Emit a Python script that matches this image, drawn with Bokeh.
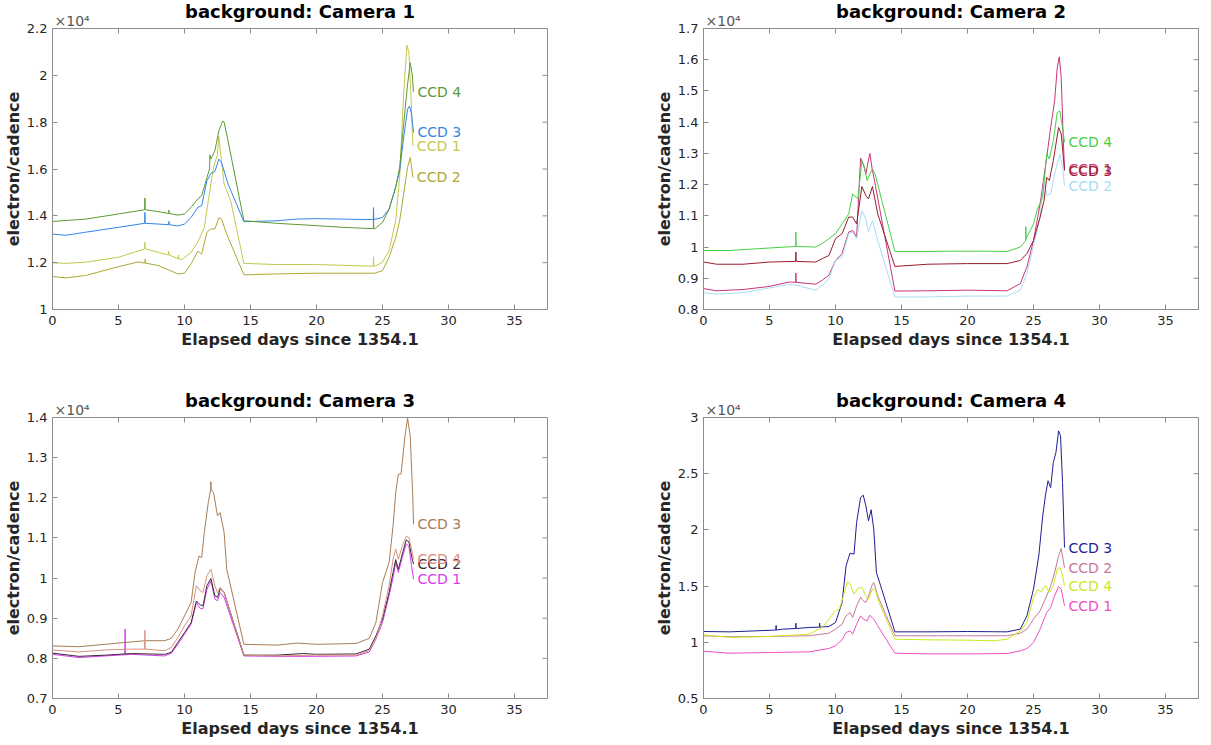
import math
from bokeh.plotting import figure
from bokeh.layouts import column, row
from bokeh.models import FixedTicker, CustomJSTickFormatter, Range1d, Title
from bokeh.core.properties import value
from bokeh.embed import file_html
from bokeh.resources import INLINE

FONT = "DejaVu Sans"

# ---------------- data (electron/cadence vs elapsed days since 1354.1) ----------------
# Camera 1
c1_ccd1_x = [0, 1, 2.5, 5, 6.98, 7.0, 7.02, 8.5, 8.78, 8.8, 8.82, 9.53, 9.55, 9.57, 9.8, 10.5, 11.0, 11.5, 11.8, 12.2, 12.5, 12.6, 12.8, 13.0, 13.5, 14.5, 17, 20, 24.3, 24.32, 24.34, 24.5, 25, 25.5, 26, 26.3, 26.6, 26.85, 27.0, 27.15, 27.3]
c1_ccd1_y = [11990, 11970, 12020, 12230, 12590, 12870, 12590, 12370, 12330, 12480, 12330, 12170, 12320, 12170, 12130, 12440, 12870, 13510, 14640, 16070, 16630, 17400, 16350, 15360, 14640, 11970, 11920, 11920, 11850, 12250, 11850, 11870, 12020, 12510, 13790, 15640, 19190, 21290, 20970, 19190, 16990]
c1_ccd2_x = [0, 1, 2.5, 5, 6.5, 7.0, 7.02, 7.04, 8, 9.5, 10, 10.5, 11, 11.3, 11.7, 12, 12.3, 12.6, 12.8, 13.2, 14.5, 17, 20, 24.4, 25, 25.5, 26, 26.3, 26.6, 26.9, 27.1, 27.3]
c1_ccd2_y = [11410, 11350, 11450, 11830, 12030, 11980, 12150, 11980, 11880, 11520, 11550, 11950, 12490, 12370, 13300, 13440, 13440, 13910, 13860, 13220, 11480, 11520, 11550, 11550, 11660, 12230, 13080, 13790, 14930, 16070, 16490, 15640]
c1_ccd3_x = [0, 1, 2.5, 5, 6.98, 7.0, 7.02, 8, 8.8, 8.82, 8.84, 9.5, 10, 10.5, 11, 11.3, 11.7, 12, 12.3, 12.6, 12.8, 13.3, 14.5, 17, 18.5, 20, 23, 24.3, 24.32, 24.34, 25, 25.5, 26, 26.3, 26.6, 26.9, 27.05, 27.2, 27.35]
c1_ccd3_y = [13220, 13170, 13300, 13510, 13680, 14150, 13680, 13650, 13620, 13760, 13620, 13570, 13650, 13930, 14360, 14430, 15500, 15810, 15890, 16420, 16280, 15360, 13750, 13790, 13860, 13880, 13850, 13840, 14350, 13840, 13930, 14290, 15240, 15920, 17340, 18550, 18690, 18340, 17560]
c1_ccd4_x = [0, 2.5, 5, 6.98, 7.0, 7.02, 8, 8.8, 8.82, 8.84, 9.5, 10, 10.5, 11, 11.3, 11.7, 11.9, 11.92, 12, 12.3, 12.6, 12.9, 13.0, 13.3, 14.5, 17, 20, 22, 24.3, 24.32, 24.34, 24.4, 25, 25.5, 26, 26.3, 26.6, 26.9, 27.1, 27.25, 27.35]
c1_ccd4_y = [13760, 13860, 14080, 14260, 14760, 14260, 14180, 14100, 14250, 14100, 14030, 14080, 14360, 14720, 14860, 15640, 16000, 16600, 16420, 16780, 17630, 18050, 18000, 17200, 13790, 13680, 13580, 13510, 13450, 13900, 13450, 13440, 13720, 14290, 15210, 16070, 17910, 19620, 20540, 20040, 19300]

# Camera 2
c2_ccd1_x = [0, 1, 3, 5, 6.5, 6.98, 7.0, 7.02, 8.5, 9, 9.5, 10, 10.5, 11, 11.3, 11.6, 11.9, 12.1, 12.3, 12.6, 12.8, 13.0, 14.5, 17, 20, 23, 24, 24.5, 25, 25.5, 26, 26.3, 26.6, 26.8, 26.95, 27.1, 27.25, 27.35]
c2_ccd1_y = [8670, 8600, 8640, 8740, 8880, 8870, 9170, 8870, 8810, 8940, 9100, 9570, 9790, 10480, 10530, 10320, 12850, 12660, 12340, 13000, 12450, 12020, 8590, 8600, 8620, 8600, 8830, 9360, 10210, 11380, 12870, 13830, 14680, 15740, 16090, 15430, 13510, 12500]
c2_ccd2_x = [0, 1, 3, 5, 6.5, 7, 8.5, 9, 9.5, 10, 10.5, 11, 11.3, 11.6, 12.0, 12.3, 12.5, 12.8, 13.2, 14.5, 17, 20, 23, 24, 24.5, 25, 25.5, 25.8, 26.0, 26.3, 26.6, 27.0, 27.2, 27.35]
c2_ccd2_y = [8540, 8490, 8540, 8690, 8800, 8780, 8620, 8780, 8990, 9570, 9680, 10430, 10480, 10270, 11170, 10900, 10480, 10850, 10210, 8400, 8400, 8430, 8430, 8620, 9150, 10050, 10960, 12130, 11650, 11700, 12340, 12980, 12550, 11970]
c2_ccd3_x = [0, 1, 3, 5, 6.98, 7.0, 7.02, 8.5, 9, 9.5, 10, 10.5, 11, 11.3, 11.6, 12.0, 12.3, 12.5, 12.8, 13.2, 14.5, 17, 20, 23, 24, 24.5, 25, 25.5, 25.8, 26.0, 26.2, 26.5, 26.9, 27.1, 27.35]
c2_ccd3_y = [9520, 9450, 9450, 9520, 9540, 9840, 9540, 9520, 9630, 9730, 10270, 10430, 10960, 10960, 10740, 11940, 11650, 11540, 11940, 11060, 9380, 9450, 9470, 9470, 9570, 9790, 10210, 10960, 11490, 12230, 12130, 12770, 13830, 13620, 12450]
c2_ccd4_x = [0, 2, 5, 6.98, 7.0, 7.02, 8.5, 9, 9.5, 10, 10.5, 11, 11.3, 11.7, 12.0, 12.2, 12.4, 12.6, 12.8, 13.0, 14.5, 17, 20, 23, 24, 24.4, 24.42, 24.44, 24.5, 25, 25.3, 25.7, 26.0, 26.2, 26.5, 26.8, 27.0, 27.2, 27.35]
c2_ccd4_y = [9890, 9890, 9970, 10020, 10480, 10020, 10000, 10110, 10270, 10430, 10740, 11060, 11700, 11540, 12770, 12550, 12130, 12340, 12500, 12340, 9860, 9860, 9870, 9860, 10000, 10200, 10650, 10250, 10320, 10740, 11220, 11600, 12980, 12820, 13400, 14310, 14360, 13830, 13350]

# Camera 3
c3_ccd1_x = [0, 2, 4, 5.48, 5.5, 5.52, 6, 8.5, 9, 9.5, 10, 10.5, 10.9, 11.2, 11.4, 11.7, 12.0, 12.3, 12.5, 12.7, 13.0, 14.5, 17, 20, 23, 24, 24.5, 25, 25.5, 25.8, 26.0, 26.2, 26.5, 26.8, 27.0, 27.2, 27.35]
c3_ccd1_y = [8100, 8020, 8060, 8090, 8730, 8090, 8100, 8060, 8130, 8350, 8600, 8850, 9390, 9240, 9240, 9720, 9930, 9480, 9430, 9640, 9520, 8060, 8050, 8050, 8060, 8160, 8480, 8890, 9560, 10010, 10390, 10140, 10510, 10850, 10790, 10310, 9970]
c3_ccd2_x = [0, 2, 4, 6, 8.5, 9, 9.5, 10, 10.5, 10.9, 11.2, 11.4, 11.7, 12.0, 12.3, 12.5, 12.7, 13.0, 14.5, 17, 19, 20, 23, 24, 24.5, 25, 25.5, 25.8, 26.0, 26.2, 26.5, 26.8, 27.0, 27.2, 27.35]
c3_ccd2_y = [8130, 8050, 8080, 8120, 8100, 8150, 8400, 8640, 8890, 9430, 9330, 9310, 9810, 9990, 9560, 9520, 9740, 9640, 8080, 8080, 8120, 8100, 8110, 8230, 8560, 8980, 9640, 10140, 10460, 10220, 10600, 10950, 10900, 10550, 10350]
c3_ccd3_x = [0, 2, 4, 6, 7, 8.5, 9, 9.5, 10, 10.5, 10.8, 11.1, 11.3, 11.5, 11.8, 11.98, 12.0, 12.02, 12.2, 12.5, 12.7, 13.0, 13.2, 14.5, 17, 18.5, 20, 23, 24, 24.5, 25, 25.5, 25.8, 26.0, 26.2, 26.4, 26.5, 26.7, 26.9, 27.1, 27.3, 27.35]
c3_ccd3_y = [8310, 8290, 8350, 8410, 8440, 8440, 8500, 8730, 9060, 9390, 10140, 10550, 10510, 11140, 11880, 12200, 12400, 12200, 12130, 11550, 11630, 11140, 10220, 8350, 8330, 8380, 8350, 8370, 8500, 8890, 9890, 10390, 11300, 12130, 12590, 12590, 12880, 13540, 13980, 13540, 11970, 11340]
c3_ccd4_x = [0, 2, 4, 6, 6.98, 7.0, 7.02, 8.5, 9, 9.5, 10, 10.5, 10.9, 11.2, 11.4, 11.7, 12.0, 12.3, 12.5, 12.7, 13.0, 14.5, 17, 20, 23, 24, 24.5, 25, 25.5, 25.8, 26.0, 26.2, 26.5, 26.8, 27.0, 27.2, 27.35]
c3_ccd4_y = [8210, 8160, 8210, 8230, 8230, 8700, 8230, 8190, 8270, 8520, 8810, 9060, 9810, 9680, 9640, 10060, 10220, 9810, 9640, 9770, 9640, 8080, 8060, 8080, 8080, 8190, 8480, 9060, 9810, 10470, 10720, 10470, 10800, 11040, 11010, 10720, 10470]

# Camera 4
c4_ccd1_x = [0, 2, 5, 8, 9.5, 10, 10.5, 10.8, 11.1, 11.3, 11.6, 11.9, 12.1, 12.4, 12.6, 12.9, 13.2, 14.5, 17, 20, 23, 24, 24.5, 25, 25.5, 26, 26.3, 26.6, 26.9, 27.1, 27.35]
c4_ccd1_y = [9210, 9030, 9090, 9150, 9450, 9690, 10220, 10870, 11020, 10720, 11610, 12350, 12060, 11910, 12410, 12060, 11460, 9030, 8970, 8970, 9000, 9240, 9450, 9980, 11170, 12650, 13100, 14130, 14960, 14730, 13240]
c4_ccd2_x = [0, 2, 5, 8, 9.5, 10, 10.5, 10.8, 11.1, 11.3, 11.6, 11.9, 12.1, 12.3, 12.5, 12.8, 12.9, 13.2, 14.5, 17, 20, 23, 24, 24.5, 25, 25.5, 26, 26.3, 26.6, 26.9, 27.1, 27.35]
c4_ccd2_y = [10580, 10490, 10520, 10580, 10810, 11170, 11610, 12350, 12650, 12210, 13240, 13990, 13690, 13540, 14130, 15170, 15320, 14130, 10580, 10580, 10580, 10580, 10810, 11170, 12060, 12800, 14130, 15020, 16210, 17690, 18350, 16630]
c4_ccd3_x = [0, 2, 4, 5.48, 5.5, 5.52, 6, 6.98, 7.0, 7.02, 8, 8.78, 8.8, 8.82, 9.5, 10, 10.5, 10.8, 11.1, 11.4, 11.6, 11.9, 12.1, 12.3, 12.5, 12.7, 12.9, 13.1, 13.5, 14.5, 17, 20, 23, 24, 24.5, 25, 25.4, 25.7, 25.9, 26.1, 26.3, 26.5, 26.7, 26.9, 27.05, 27.2, 27.35]
c4_ccd3_y = [10960, 10930, 11020, 11090, 11500, 11090, 11170, 11230, 11700, 11230, 11320, 11350, 11700, 11350, 11410, 11760, 13540, 16800, 17930, 17840, 20660, 22880, 23090, 22140, 20810, 21790, 20070, 16210, 14730, 10930, 10930, 10960, 10930, 11170, 12350, 14730, 17690, 21250, 23030, 24370, 23770, 26000, 26890, 28810, 28370, 24220, 18430]
c4_ccd4_x = [0, 2, 5, 8, 9, 9.5, 10, 10.3, 10.6, 10.9, 11.1, 11.4, 11.7, 12.0, 12.3, 12.5, 12.8, 13.0, 13.3, 14.5, 17, 20, 22, 23, 24, 24.5, 25, 25.3, 25.6, 25.9, 26.2, 26.5, 26.8, 27.0, 27.2, 27.35]
c4_ccd4_y = [10660, 10430, 10520, 10720, 11320, 12060, 12800, 12950, 14130, 15400, 15200, 14280, 14790, 14880, 14130, 13840, 14730, 14730, 13540, 10280, 10220, 10190, 10130, 10280, 11020, 11760, 13990, 14670, 14490, 15080, 14430, 15020, 16510, 16660, 15910, 15020]

ccd_names = ["CCD 1", "CCD 2", "CCD 3", "CCD 4"]
x_ticks = [0, 5, 10, 15, 20, 25, 30, 35]
x_max = 37.5
c1_yticks = [10000, 12000, 14000, 16000, 18000, 20000, 22000]
c2_yticks = [8000, 9000, 10000, 11000, 12000, 13000, 14000, 15000, 16000, 17000]
c3_yticks = [7000, 8000, 9000, 10000, 11000, 12000, 13000, 14000]
c4_yticks = [5000, 10000, 15000, 20000, 25000, 30000]

c1_colors = ["#c4c84e", "#ada932", "#3584e6", "#5c9a33"]
c2_colors = ["#c8347a", "#a8dcf2", "#9a1b2e", "#48d044"]
c3_colors = ["#d83cf0", "#3a2838", "#a87c56", "#d8907e"]
c4_colors = ["#f050c0", "#c8789a", "#1e1e96", "#cce81e"]

GRAY = "#8c8c8c"
TXT = "#262626"


def panel(cam, ylo, yhi, yticks, xs, ys, colors, mb_left, mb_right, mb_top, mb_bottom):
    p = figure(frame_width=495, frame_height=281, title=None,
               x_range=Range1d(0, x_max), y_range=Range1d(ylo, yhi),
               output_backend="svg", toolbar_location=None,
               min_border_left=mb_left, min_border_right=mb_right,
               min_border_top=mb_top, min_border_bottom=mb_bottom,
               background_fill_color="white", border_fill_color="white")
    # exponent note (nearest to the frame), then the main title overlapping its row
    p.add_layout(Title(text="\u00d710\u2074", align="left", offset=2, standoff=0,
                       text_font=FONT, text_font_size="14px", text_font_style="normal",
                       text_color="#555555", vertical_align="bottom"), "above")
    p.add_layout(Title(text=f"background: Camera {cam}", align="center", standoff=-22,
                       text_font=FONT, text_font_size="18px", text_font_style="bold",
                       text_color="black", vertical_align="bottom"), "above")
    p.grid.visible = False
    p.outline_line_color = GRAY
    p.outline_line_width = 1

    yfmt = CustomJSTickFormatter(code="return String(parseFloat((tick/10000).toFixed(2)));")
    p.xaxis.ticker = FixedTicker(ticks=x_ticks)
    p.yaxis.ticker = FixedTicker(ticks=yticks)
    p.yaxis.formatter = yfmt
    for ax in (p.xaxis[0], p.yaxis[0]):
        ax.axis_line_color = GRAY
        ax.major_tick_line_color = GRAY
        ax.major_tick_in = 5
        ax.major_tick_out = 0
        ax.minor_tick_line_color = None
        ax.major_label_text_font = FONT
        ax.major_label_text_font_size = "13px"
        ax.major_label_text_color = TXT
        ax.axis_label_text_font = FONT
        ax.axis_label_text_font_size = "16px"
        ax.axis_label_text_font_style = "bold"
        ax.axis_label_text_color = TXT
    p.xaxis.axis_label = "Elapsed days since 1354.1"
    p.yaxis.axis_label = "electron/cadence"
    p.xaxis.major_label_standoff = 6
    p.xaxis.axis_label_standoff = 2
    p.yaxis.major_label_standoff = 5
    p.yaxis.axis_label_standoff = 1

    # inner tick marks on the top and right edges of the box
    p.scatter(x=x_ticks, y=[yhi] * len(x_ticks), marker="dash", size=10, angle=math.pi / 2,
              line_color=GRAY, line_width=1)
    p.scatter(x=[x_max] * len(yticks), y=yticks, marker="dash", size=10,
              line_color=GRAY, line_width=1)

    for i in range(4):
        p.line(xs[i], ys[i], line_color=colors[i], line_width=1)
    for i in range(4):
        p.text(x=[xs[i][-1]], y=[ys[i][-1]], text=[ccd_names[i]], x_offset=4,
               text_color=colors[i], text_font=value(FONT), text_font_size="14px",
               text_align="left", text_baseline="middle")
    return p


p1 = panel(1, 10000, 22000, c1_yticks,
           [c1_ccd1_x, c1_ccd2_x, c1_ccd3_x, c1_ccd4_x],
           [c1_ccd1_y, c1_ccd2_y, c1_ccd3_y, c1_ccd4_y], c1_colors, 50, 70, 28, 80)
p2 = panel(2, 8000, 17000, c2_yticks,
           [c2_ccd1_x, c2_ccd2_x, c2_ccd3_x, c2_ccd4_x],
           [c2_ccd1_y, c2_ccd2_y, c2_ccd3_y, c2_ccd4_y], c2_colors, 86, 5, 28, 80)
p3 = panel(3, 7000, 14000, c3_yticks,
           [c3_ccd1_x, c3_ccd2_x, c3_ccd3_x, c3_ccd4_x],
           [c3_ccd1_y, c3_ccd2_y, c3_ccd3_y, c3_ccd4_y], c3_colors, 50, 70, 28, 42)
p4 = panel(4, 5000, 30000, c4_yticks,
           [c4_ccd1_x, c4_ccd2_x, c4_ccd3_x, c4_ccd4_x],
           [c4_ccd1_y, c4_ccd2_y, c4_ccd3_y, c4_ccd4_y], c4_colors, 86, 5, 28, 42)

layout = column(row(p1, p2), row(p3, p4))
open("out.html", "w").write(file_html(layout, INLINE))
